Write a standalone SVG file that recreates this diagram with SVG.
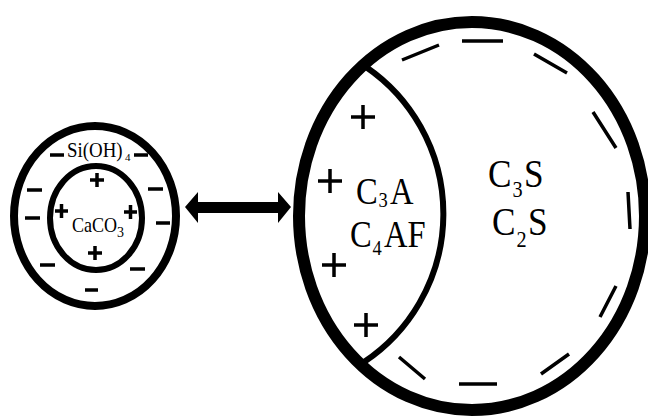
<svg xmlns="http://www.w3.org/2000/svg" width="648" height="418" viewBox="0 0 648 418">
<style>
.ring{fill:none;stroke:#000}
.sign{stroke:#000;stroke-width:3.5;fill:none}
.big{stroke:#000;stroke-width:3.5;fill:none}
.t{font-family:"Liberation Serif","Times New Roman",serif;fill:#000}
</style>
<rect width="648" height="418" fill="#fff"/>
<g id="particle-small">
<ellipse class="ring" cx="95" cy="216" rx="81" ry="90" stroke-width="8"/>
<text class="t" font-size="21" transform="translate(67 157) scale(0.9 1)">Si(OH)</text>
<text class="t" font-size="11" x="125" y="161">4</text>
<path class="sign" d="M50 155H64M134 155H148M27 190H42M148 189H163M25 218H40M156 223H170M40 265H55M130 269H145M85 290H98"/>
</g>
<g id="particle-inner">
<ellipse class="ring" cx="96" cy="218" rx="46" ry="52" stroke-width="6"/>
<text class="t" font-size="21" transform="translate(72 232) scale(0.86 1)">CaCO</text>
<text class="t" font-size="14" x="117" y="237">3</text>
<path class="sign" d="M90 180H104M97 173V187M55 211H68M61.5 204V218M124 212H137M130.5 205V219M88 253H102M95 246V260" stroke-width="3"/>
</g>
<g id="connectors">
<path d="M185 207L198 192V202H278V192L291 207L278 223V213H198V223Z" fill="#000"/>
</g>
<g id="clinker">
<ellipse class="ring" cx="472" cy="216" rx="173" ry="194" stroke-width="12"/>
<path class="ring" d="M366 67A178 178 0 0 1 364 362" stroke-width="6"/>
<path class="big" d="M351 117H375M363 105V129M318 181H342M330 169V193M322 265H346M334 253V277M354 325H378M366 313V337"/>
<path class="big" stroke-width="4" d="M402 60L439 45M462 41H503M534 54L567 73M593 112L616 148M628 192L630 229M616 286L600 317M569 354L541 374M459 384H497M399 357L425 379"/>
<text class="t" font-size="37" transform="translate(356 204) scale(0.88 1)">C</text>
<text class="t" font-size="21" transform="translate(378.5 207) scale(0.88 1)">3</text>
<text class="t" font-size="37" transform="translate(390 204) scale(0.88 1)">A</text>
<text class="t" font-size="37" transform="translate(350 247) scale(0.88 1)">C</text>
<text class="t" font-size="21" transform="translate(372.5 255) scale(0.88 1)">4</text>
<text class="t" font-size="37" transform="translate(384 247) scale(0.88 1)">AF</text>
<text class="t" font-size="40" transform="translate(488 187) scale(0.88 1)">C</text>
<text class="t" font-size="23" transform="translate(512.5 197) scale(0.88 1)">3</text>
<text class="t" font-size="40" transform="translate(524 187) scale(0.88 1)">S</text>
<text class="t" font-size="40" transform="translate(492 235) scale(0.88 1)">C</text>
<text class="t" font-size="23" transform="translate(516.5 247) scale(0.88 1)">2</text>
<text class="t" font-size="40" transform="translate(528 235) scale(0.88 1)">S</text>
</g>
</svg>
